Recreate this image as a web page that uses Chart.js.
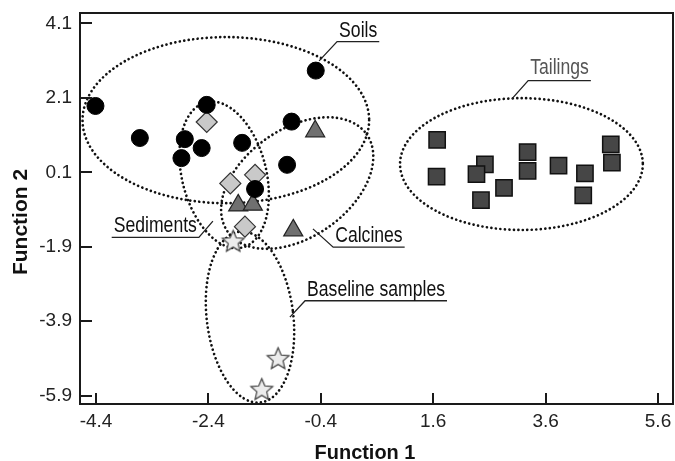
<!DOCTYPE html>
<html>
<head>
<meta charset="utf-8">
<title>Function 1 vs Function 2</title>
<script src="https://cdn.jsdelivr.net/npm/chart.js@4.4.0/dist/chart.umd.min.js"></script>
<style>
  body { margin: 0; background: #fff; }
  #wrap { width: 675px; height: 461px; }
</style>
</head>
<body>
<div id="wrap"><canvas id="chart" width="675" height="461"></canvas></div>
<script>
// axis ticks
const xTicks = [-4.4, -2.4, -0.4, 1.6, 3.6, 5.6];
const yTicks = [-5.9, -3.9, -1.9, 0.1, 2.1, 4.1];

// sample scores
const soilsX = [-4.41, -3.62, -2.82, -2.88, -2.52, -2.43, -1.80, -1.57, -1.00, -0.92, -0.49];
const soilsY = [1.88, 1.02, 0.99, 0.48, 0.75, 1.91, 0.89, -0.35, 0.30, 1.46, 2.83];

const tailingsX = [1.67, 1.66, 2.52, 2.37, 2.86, 2.45, 3.28, 3.28, 3.83, 4.30, 4.27, 4.76, 4.78];
const tailingsY = [0.97, -0.02, 0.31, 0.05, -0.32, -0.65, 0.64, 0.14, 0.28, 0.07, -0.52, 0.85, 0.36];

const sedimentsX = [-2.43, -2.01, -1.57, -1.75];
const sedimentsY = [1.45, -0.20, 0.03, -1.36];

const calcinesX = [-1.87, -1.61, -0.89, -0.50];
const calcinesY = [-0.79, -0.77, -1.46, 1.20];

const baselineX = [-1.96, -1.16, -1.45];
const baselineY = [-1.77, -4.92, -5.75];

// group outlines: centre and half-widths in axis units, tilt in degrees
const groupNames = ['Soils', 'Tailings', 'Sediments', 'Calcines', 'Baseline samples'];
const ellipseCX = [-2.09, 3.17, -2.12, -0.82, -1.66];
const ellipseCY = [1.50, 0.32, 0.03, -0.19, -3.79];
const ellipseRX = [2.55, 2.16, 0.75, 1.51, 0.77];
const ellipseRY = [2.23, 1.77, 2.01, 1.45, 2.31];
const ellipseTilt = [0, 0, -14, -35, -7];

// label leaders: from the outline (A) to the start of the underline (B)
const leaderAX = [-0.43, 3.00, -2.32, -0.54, -0.95];
const leaderAY = [3.09, 2.07, -1.21, -1.42, -3.79];
const leaderBX = [-0.11, 3.29, -2.57, -0.18, -0.68];
const leaderBY = [3.61, 2.56, -1.65, -1.91, -3.35];
const labelSide = ['right', 'right', 'left', 'right', 'right'];
const labelColor = ['#111', '#555', '#111', '#111', '#111'];

const toPoints = (xs, ys) => xs.map((v, i) => ({ x: v, y: ys[i] }));

// five-point star marker for the baseline samples
function makeStar(outer, inner) {
  const size = Math.ceil(outer * 2 + 4);
  const c = document.createElement('canvas');
  c.width = size; c.height = size;
  const g = c.getContext('2d');
  g.beginPath();
  for (let k = 0; k < 10; k++) {
    const r = k % 2 === 0 ? outer : inner;
    const a = -Math.PI / 2 + k * Math.PI / 5;
    const px = size / 2 + r * Math.cos(a);
    const py = size / 2 + r * Math.sin(a);
    if (k === 0) g.moveTo(px, py); else g.lineTo(px, py);
  }
  g.closePath();
  g.fillStyle = '#ececec';
  g.fill();
  g.lineWidth = 1.1;
  g.strokeStyle = '#333';
  g.stroke();
  return c;
}
const starImg = makeStar(11.5, 5.2);

const overlay = {
  id: 'overlay',
  beforeDatasetsDraw(chart) {
    const { ctx, scales: { x, y } } = chart;
    ctx.save();
    ctx.strokeStyle = '#111';
    ctx.lineWidth = 2.7;
    ctx.lineCap = 'round';
    ctx.setLineDash([0.01, 4.5]);
    groupNames.forEach((n, i) => {
      const cx = x.getPixelForValue(ellipseCX[i]);
      const cy = y.getPixelForValue(ellipseCY[i]);
      const rx = Math.abs(x.getPixelForValue(ellipseCX[i] + ellipseRX[i]) - cx);
      const ry = Math.abs(y.getPixelForValue(ellipseCY[i] + ellipseRY[i]) - cy);
      ctx.beginPath();
      ctx.ellipse(cx, cy, rx, ry, ellipseTilt[i] * Math.PI / 180, 0, 2 * Math.PI);
      ctx.stroke();
    });
    ctx.restore();
  },
  afterDraw(chart) {
    const { ctx, chartArea: a, scales: { x, y } } = chart;
    ctx.save();
    // frame and inward ticks
    ctx.strokeStyle = '#1a1a1a';
    ctx.lineWidth = 2;
    ctx.strokeRect(a.left, a.top, a.right - a.left, a.bottom - a.top);
    ctx.beginPath();
    xTicks.forEach(v => {
      const px = Math.round(x.getPixelForValue(v));
      ctx.moveTo(px, a.bottom);
      ctx.lineTo(px, a.bottom - 11);
    });
    yTicks.forEach(v => {
      const py = Math.round(y.getPixelForValue(v));
      ctx.moveTo(a.left, py);
      ctx.lineTo(a.left + 12, py);
    });
    ctx.stroke();

    // axis titles
    ctx.fillStyle = '#111';
    ctx.font = 'bold 21px "Liberation Sans", Arial, sans-serif';
    ctx.textAlign = 'center';
    ctx.textBaseline = 'alphabetic';
    ctx.save();
    ctx.translate(365, 459);
    ctx.scale(0.95, 1);
    ctx.fillText('Function 1', 0, 0);
    ctx.restore();
    ctx.save();
    ctx.translate(26.5, 222);
    ctx.rotate(-Math.PI / 2);
    ctx.fillText('Function 2', 0, 0);
    ctx.restore();

    // group labels, underlined, with a leader to the outline
    ctx.textAlign = 'left';
    ctx.font = '22px "Liberation Sans", Arial, sans-serif';
    ctx.lineWidth = 1.3;
    ctx.strokeStyle = '#222';
    const squeeze = 0.8;
    groupNames.forEach((name, i) => {
      const ax = x.getPixelForValue(leaderAX[i]);
      const ay = y.getPixelForValue(leaderAY[i]);
      const bx = x.getPixelForValue(leaderBX[i]);
      const by = y.getPixelForValue(leaderBY[i]);
      const w = ctx.measureText(name).width * squeeze;
      const right = labelSide[i] === 'right';
      const ex = right ? bx + w + 4 : bx - w - 4;
      ctx.beginPath();
      ctx.moveTo(ax, ay);
      ctx.lineTo(bx, by);
      ctx.lineTo(ex, by);
      ctx.stroke();
      const tx = right ? bx + 2 : bx - 2 - w;
      const gap = name === 'Tailings' ? 6.5 : 5;
      ctx.save();
      ctx.translate(tx, by - gap);
      ctx.scale(squeeze, 1);
      ctx.fillStyle = labelColor[i];
      ctx.fillText(name, 0, 0);
      ctx.restore();
    });
    ctx.restore();
  }
};

const tickFont = { family: '"Liberation Sans", Arial, sans-serif', size: 19 };

new Chart(document.getElementById('chart'), {
  type: 'scatter',
  data: {
    datasets: [
      {
        label: 'Soils', data: toPoints(soilsX, soilsY),
        pointStyle: 'circle', pointRadius: 8.5,
        backgroundColor: '#000', borderColor: '#000', borderWidth: 1
      },
      {
        label: 'Tailings', data: toPoints(tailingsX, tailingsY),
        pointStyle: 'rect', pointRadius: 11.5,
        backgroundColor: '#464646', borderColor: '#111', borderWidth: 1.5
      },
      {
        label: 'Sediments', data: toPoints(sedimentsX, sedimentsY),
        pointStyle: 'rectRot', pointRadius: 10.5,
        backgroundColor: '#c9c9c9', borderColor: '#333', borderWidth: 1.2
      },
      {
        label: 'Calcines', data: toPoints(calcinesX, calcinesY),
        pointStyle: 'triangle', pointRadius: 11,
        backgroundColor: '#707070', borderColor: '#222', borderWidth: 1.2
      },
      {
        label: 'Baseline samples', data: toPoints(baselineX, baselineY),
        pointStyle: starImg, pointRadius: 11.5
      }
    ]
  },
  options: {
    responsive: false,
    animation: false,
    layout: { autoPadding: false, padding: { top: 13, right: 2, left: 0, bottom: 0 } },
    plugins: { legend: { display: false }, tooltip: { enabled: false } },
    scales: {
      x: {
        type: 'linear', position: 'bottom', min: -4.685, max: 5.867,
        afterBuildTicks: s => { s.ticks = xTicks.map(v => ({ value: v })); },
        afterFit: s => { s.height = 57; s.paddingLeft = 0; s.paddingRight = 0; },
        grid: { display: false, drawTicks: false },
        border: { display: false },
        ticks: { font: tickFont, color: '#222', padding: 6, callback: v => v.toFixed(1) },
        title: { display: false, text: 'Function 1' }
      },
      y: {
        type: 'linear', min: -6.123, max: 4.377,
        afterBuildTicks: s => { s.ticks = yTicks.map(v => ({ value: v })); },
        afterFit: s => { s.width = 80; s.paddingTop = 0; s.paddingBottom = 0; },
        grid: { display: false, drawTicks: false },
        border: { display: false },
        ticks: { font: tickFont, color: '#222', padding: 8, callback: v => v.toFixed(1) },
        title: { display: false, text: 'Function 2' }
      }
    }
  },
  plugins: [overlay]
});
</script>
</body>
</html>
